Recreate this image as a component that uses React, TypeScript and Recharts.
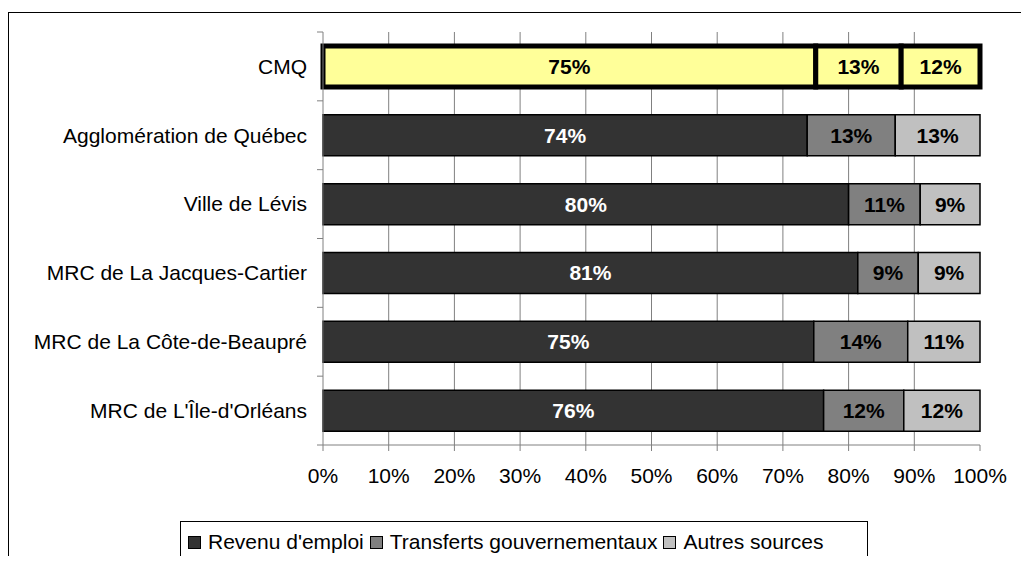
import React from 'react';
import { BarChart, Bar, XAxis, YAxis, CartesianGrid, Cell, LabelList, Legend } from 'recharts';

const categories = [
  'CMQ',
  'Agglomération de Québec',
  'Ville de Lévis',
  'MRC de La Jacques-Cartier',
  'MRC de La Côte-de-Beaupré',
  "MRC de L'Île-d'Orléans",
];
const revenuEmploi = [75.0, 73.7, 80.0, 81.4, 74.7, 76.2];
const transferts = [13.0, 13.4, 10.9, 9.2, 14.3, 12.2];
const autres = [12.0, 12.9, 9.1, 9.4, 11.0, 11.6];
const xTicks = [0, 10, 20, 30, 40, 50, 60, 70, 80, 90, 100];

const seriesNames = ["Revenu d'emploi", 'Transferts gouvernementaux', 'Autres sources'];
const seriesKeys = ['emploi', 'transferts', 'autres'];
const seriesColors = ['#333333', '#808080', '#C0C0C0'];
const labelColors = ['#FFFFFF', '#000000', '#000000'];
const highlightFill = '#FFFF99';

const data = categories.map((name, i) => ({
  name,
  emploi: revenuEmploi[i],
  transferts: transferts[i],
  autres: autres[i],
}));

const FONT = "'Liberation Sans', Arial, sans-serif";

const YTick = (props: any) => {
  const { x, y, payload, index, visibleTicksCount } = props;
  const half = payload && payload.offset ? payload.offset : 413 / 12;
  const axisX = x + 16;
  const isLast = index === (visibleTicksCount ?? categories.length) - 1;
  return (
    <g>
      <line x1={axisX - 6} x2={axisX} y1={y - half} y2={y - half} stroke="#808080" />
      {isLast && <line x1={axisX - 6} x2={axisX} y1={y + half} y2={y + half} stroke="#808080" />}
      <text x={x} y={y} dy="0.35em" textAnchor="end" fontFamily={FONT} fontSize={21} fill="#000">
        {payload.value}
      </text>
    </g>
  );
};

const makeLabel = (s: number) => (props: any) => {
  const { x, y, width, height, value, index } = props;
  const fill = index === 0 ? '#000000' : labelColors[s];
  return (
    <text
      x={x + width / 2}
      y={y + height / 2}
      dy="0.35em"
      textAnchor="middle"
      fontFamily={FONT}
      fontWeight="bold"
      fontSize={21}
      fill={fill}
    >
      {Math.round(value)}%
    </text>
  );
};

const LegendContent = () => (
  <div
    style={{
      boxSizing: 'border-box',
      width: 688,
      height: 42,
      border: '1px solid #000',
      display: 'flex',
      alignItems: 'center',
      paddingLeft: 7,
      fontFamily: FONT,
      fontSize: 21,
      color: '#000',
      background: '#fff',
      whiteSpace: 'nowrap',
    }}
  >
    {seriesNames.map((n, i) => (
      <span key={n} style={{ display: 'flex', alignItems: 'center', marginRight: 6 }}>
        <span
          style={{
            display: 'inline-block',
            boxSizing: 'border-box',
            width: 13,
            height: 13,
            background: seriesColors[i],
            border: '1px solid #000',
            marginRight: 7,
          }}
        />
        <span>{n}</span>
      </span>
    ))}
  </div>
);

export default function App() {
  return (
    <div style={{ position: 'relative', width: 1013, height: 556, marginBottom: -8, overflow: 'hidden' }}>
      <div
        style={{
          position: 'absolute',
          left: 0,
          top: 4,
          width: 1013,
          height: 552,
          borderTop: '1px solid #000',
          borderLeft: '1px solid #000',
          boxSizing: 'border-box',
        }}
      />
      <div style={{ position: 'absolute', left: 0, top: 0 }}>
        <BarChart
          width={1013}
          height={556}
          data={data}
          layout="vertical"
          margin={{ top: 24, right: 41, bottom: 79, left: 15 }}
          barSize={41}
        >
          <CartesianGrid
            horizontal={false}
            stroke="#808080"
            syncWithTicks={false}
            verticalCoordinatesGenerator={({ offset }: any) =>
              xTicks.slice(1, -1).map((t) => offset.left + (offset.width * t) / 100)
            }
          />
          <XAxis
            type="number"
            domain={[0, 100]}
            ticks={xTicks}
            tickFormatter={(v: number) => `${v}%`}
            axisLine={{ stroke: '#808080' }}
            tickLine={{ stroke: '#808080' }}
            tickSize={6}
            tickMargin={17}
            height={40}
            interval={0}
            tick={{ fontFamily: FONT, fontSize: 21, fill: '#000' }}
          />
          <YAxis
            type="category"
            dataKey="name"
            width={300}
            axisLine={{ stroke: '#808080' }}
            tickLine={false}
            tickSize={6}
            tickMargin={10}
            interval={0}
            tick={<YTick />}
          />
          <Legend
            verticalAlign="middle"
            align="center"
            layout="horizontal"
            content={<LegendContent />}
            wrapperStyle={{ position: 'absolute', left: 172, top: 513, width: 688, height: 42 }}
          />
          {seriesKeys.map((k, s) => (
            <Bar key={k} dataKey={k} name={seriesNames[s]} stackId="a" isAnimationActive={false} fill={seriesColors[s]}>
              {data.map((d, i) => (
                <Cell
                  key={d.name}
                  fill={i === 0 ? highlightFill : seriesColors[s]}
                  stroke="#000"
                  strokeWidth={i === 0 ? 5 : 1.5}
                />
              ))}
              <LabelList dataKey={k} content={makeLabel(s)} />
            </Bar>
          ))}
        </BarChart>
      </div>
    </div>
  );
}
